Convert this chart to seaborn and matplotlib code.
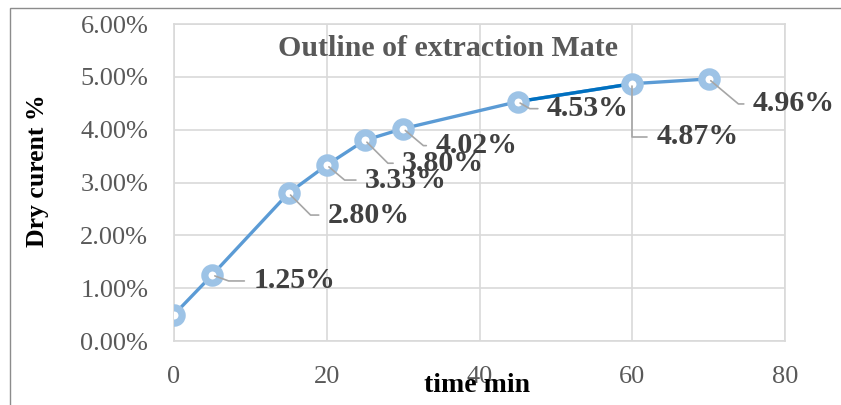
import matplotlib
matplotlib.use("Agg")
import matplotlib.pyplot as plt
from matplotlib.patches import Rectangle
from matplotlib.ticker import FuncFormatter, MultipleLocator
import seaborn as sns
import pandas as pd

# Extraction curve: dry content (%) against time (min)
time_min = [0, 5, 15, 20, 25, 30, 45, 60, 70]
dry_pct = [0.50, 1.25, 2.80, 3.33, 3.80, 4.02, 4.53, 4.87, 4.96]
# label offsets (pixels) for each data label; None = no label
label_offsets = [None, (41, -6), (39, -22), (38, -15), (37, -23),
                 (32, -17), (29, -7), (24, -53), (44, -25)]
leader_angles = [None, -20, -45, -40, -45, -40, -30, 90, -40]

df = pd.DataFrame({"time": time_min, "dry": dry_pct})

sns.set_style("white")
plt.rcParams["font.family"] = ["Liberation Serif", "DejaVu Serif"]

fig = plt.figure(figsize=(8.41, 4.05), dpi=100)
ax = fig.add_axes([174 / 841, 1 - 341 / 405, (785 - 174) / 841, (341 - 24) / 405])

line_blue = "#5B9BD5"
dark_blue = "#0070C0"
ring_blue = "#9DC3E6"

sns.lineplot(data=df, x="time", y="dry", ax=ax, color=line_blue, lw=2.4,
             sort=False, zorder=3)
seg = df[(df["time"] >= 45) & (df["time"] <= 60)]
sns.lineplot(data=seg, x="time", y="dry", ax=ax, color=dark_blue, lw=2.4,
             sort=False, zorder=3.5)
ax.plot(df["time"], df["dry"], ls="none", marker="o", markersize=11,
        markerfacecolor="white", markeredgecolor=ring_blue,
        markeredgewidth=5.2, zorder=4)

for x, y, off, ang in zip(time_min, dry_pct, label_offsets, leader_angles):
    if off is None:
        continue
    ax.annotate(f"{y:.2f}%", xy=(x, y), xytext=off, textcoords="offset pixels",
                ha="left", va="center", fontsize=21.5, fontweight="bold",
                color="#404040", zorder=6,
                arrowprops=dict(arrowstyle="-", color="#A6A6A6", lw=1.2,
                                shrinkA=4, shrinkB=2, relpos=(0, 0.5),
                                connectionstyle=f"angle,angleA=0,angleB={ang},rad=0"))

ax.set_xlim(0, 80)
ax.set_ylim(0, 6)
ax.xaxis.set_major_locator(MultipleLocator(20))
ax.yaxis.set_major_locator(MultipleLocator(1))
ax.yaxis.set_major_formatter(FuncFormatter(lambda v, p: f"{v:.2f}%"))
ax.grid(True, color="#D9D9D9", lw=1.2)
ax.set_axisbelow(True)
for s in ax.spines.values():
    s.set_color("#D9D9D9")
    s.set_linewidth(1.2)
ax.tick_params(axis="both", length=0, labelsize=19, colors="#595959")
ax.tick_params(axis="x", pad=18)
ax.tick_params(axis="y", pad=18.5)

ax.set_xlabel("")
ax.set_ylabel("")
fig.text(477 / 841, 1 - 385 / 405, "time min", ha="center", va="center",
         fontsize=20, fontweight="bold", color="black")
fig.text(38 / 841, 1 - 171 / 405, "Dry curent %", ha="center", va="center",
         rotation=90, fontsize=18.5, fontweight="bold", color="black")
ax.text(448 / 841, 1 - 49 / 405, "Outline of extraction Mate",
        transform=fig.transFigure, ha="center", va="center", fontsize=21.5,
        fontweight="bold", color="#595959", zorder=5)

# chart-area frame
fig.add_artist(Rectangle((10 / 841, -0.2), 2.0, 1.2 - 8 / 405,
                         transform=fig.transFigure, fill=False,
                         edgecolor="#8C8C8C", lw=1.0))

fig.savefig("out.png", dpi=100)
